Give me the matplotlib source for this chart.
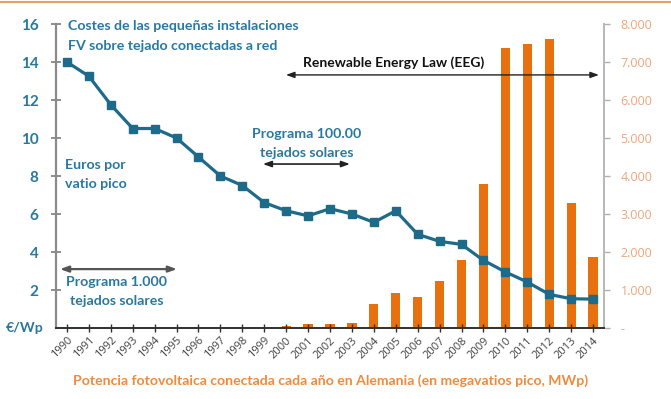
import matplotlib
matplotlib.use("Agg")
import matplotlib.pyplot as plt
from matplotlib.lines import Line2D

years = list(range(1990, 2015))
cost_eur_wp = [14.0, 13.25, 11.75, 10.5, 10.5, 10.0, 9.0, 8.0, 7.5, 6.6, 6.17, 5.9,
               6.28, 6.0, 5.56, 6.17, 4.93, 4.56, 4.4, 3.56, 2.95, 2.42, 1.77, 1.54, 1.52]
bar_years = list(range(2000, 2015))
installed_mw = [50, 110, 110, 140, 640, 920, 815, 1245, 1780, 3800, 7375, 7480, 7605, 3300, 1860]
left_ticks = [2, 4, 6, 8, 10, 12, 14, 16]
right_ticks = [0, 1000, 2000, 3000, 4000, 5000, 6000, 7000, 8000]
right_labels = ["-", "1.000", "2.000", "3.000", "4.000", "5.000", "6.000", "7.000", "8.000"]

TEAL = "#1d6a89"
TEXT = "#2878a0"
ORANGE = "#e8700f"
LORANGE = "#f0a67a"
XLAB = "#f08a3c"
FONT = "Lato"

W, H = 671, 399
fig = plt.figure(figsize=(W / 100, H / 100), dpi=100)
fig.patch.set_facecolor("white")
ax = fig.add_axes([56 / W, 1 - 328 / H, (604 - 56) / W, (328 - 24) / H])
ax2 = ax.twinx()

ax2.bar(bar_years, installed_mw, width=0.42, color=ORANGE, zorder=1)
ax2.set_ylim(0, 8000)
ax.set_zorder(ax2.get_zorder() + 1)
ax.patch.set_visible(False)

ax.plot(years, cost_eur_wp, color=TEAL, lw=2.3, marker="s", ms=6, zorder=5)
ax.set_xlim(1989.5, 2014.5)
ax.set_ylim(0, 16)

# spines
for s in ["top"]:
    ax.spines[s].set_visible(False)
    ax2.spines[s].set_visible(False)
ax.spines["right"].set_visible(False)
ax2.spines["left"].set_visible(False)
ax2.spines["bottom"].set_visible(False)
ax.spines["left"].set_color("#8a8a8a")
ax.spines["left"].set_linewidth(1.6)
ax.spines["bottom"].set_color("#303030")
ax.spines["bottom"].set_linewidth(1.4)
ax2.spines["right"].set_color("#b8b8b8")
ax2.spines["right"].set_linewidth(1.4)

ax.set_yticks(left_ticks)
ax.set_yticklabels([str(t) for t in left_ticks], fontfamily=FONT, fontweight="bold",
                   fontsize=11, color=TEXT)
ax.tick_params(axis="y", direction="inout", length=7, width=1.2, color="#7a7a7a", pad=9)
ax.set_xticks(years)
ax.set_xticklabels([str(y) for y in years], rotation=45, ha="right", rotation_mode="anchor",
                   fontsize=8, color="#404040", fontfamily="Open Sans")
ax.tick_params(axis="x", direction="inout", length=6, width=1.0, color="#303030", pad=2)

ax2.set_yticks(right_ticks)
ax2.set_yticklabels(right_labels, fontsize=9, color=LORANGE, fontfamily="Open Sans")
ax2.tick_params(axis="y", direction="out", length=4, width=1.0, color="#b0b0b0", pad=8)

# texts
tkw = dict(fontfamily=FONT, fontweight="bold", color=TEXT, fontsize=10.2)
ax.text(1990.05, 15.9, "Costes de las pequeñas instalaciones", va="center", ha="left", **tkw)
ax.text(1990.05, 14.85, "FV sobre tejado conectadas a red", va="center", ha="left", **tkw)
ax.text(1989.93, 8.58, "Euros por", va="center", ha="left", **tkw)
ax.text(1989.93, 7.58, "vatio pico", va="center", ha="left", **tkw)
ax.text(2000.95, 10.2, "Programa 100.00", va="center", ha="center", **tkw)
ax.text(2000.95, 9.2, "tejados solares", va="center", ha="center", **tkw)
ax.text(1992.28, 2.42, "Programa 1.000", va="center", ha="center", **tkw)
ax.text(1992.28, 1.42, "tejados solares", va="center", ha="center", **tkw)
ax.text(2004.9, 13.95, "Renewable Energy Law (EEG)", va="center", ha="center",
        fontfamily=FONT, fontweight="bold", color="#111111", fontsize=10)

akw = dict(arrowstyle="<|-|>,head_length=0.5,head_width=0.18", shrinkA=0, shrinkB=0)
ax.annotate("", xy=(2014.27, 13.32), xytext=(1999.99, 13.32),
            arrowprops=dict(color="#222222", lw=1.0, **akw))
ax.annotate("", xy=(2002.91, 8.63), xytext=(1998.94, 8.63),
            arrowprops=dict(color="#222222", lw=1.2, **akw))
ax.annotate("", xy=(1995.02, 3.1), xytext=(1989.68, 3.1),
            arrowprops=dict(color="#555555", lw=1.6, **akw))

fig.text(44 / W, 1 - 328 / H, "€/Wp", ha="right", va="center", **tkw)
fig.text(331 / W, 1 - 381 / H,
         "Potencia fotovoltaica conectada cada año en Alemania (en megavatios pico, MWp)",
         ha="center", va="center", fontfamily=FONT, fontweight="bold", color=XLAB, fontsize=10.1)

fig.add_artist(Line2D([0, 1], [1 - 1.5 / H, 1 - 1.5 / H], transform=fig.transFigure,
                      color="#e8a060", lw=1.5))

fig.savefig("out.png", dpi=100, facecolor="white")
